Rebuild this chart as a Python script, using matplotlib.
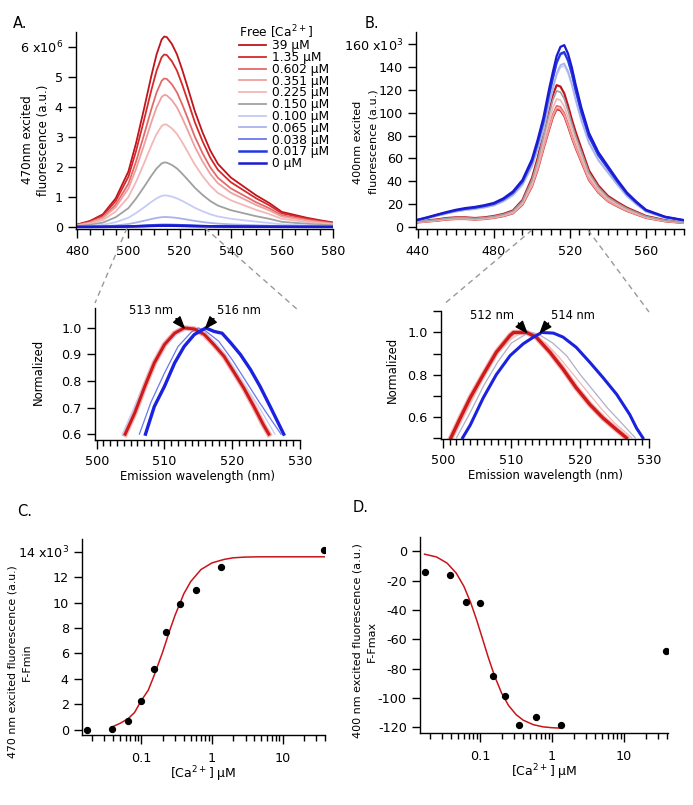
import numpy as np
import matplotlib
matplotlib.use("Agg")
import matplotlib.pyplot as plt
from matplotlib.lines import Line2D
from matplotlib.ticker import MultipleLocator, LogLocator, NullFormatter, FixedLocator

plt.rcParams['font.family'] = ['DejaVu Sans']
plt.rcParams['mathtext.default'] = 'regular'
plt.rcParams['axes.unicode_minus'] = False

# ---------------- data ----------------
conc_labels = ['39 µM', '1.35 µM', '0.602 µM', '0.351 µM', '0.225 µM', '0.150 µM',
               '0.100 µM', '0.065 µM', '0.038 µM', '0.017 µM', '0 µM']
conc_colors = ['#c0141c', '#d42a2a', '#e36a6a', '#eea0a0', '#f2b8b8', '#a0a0a0',
               '#c5ccf5', '#aab2ee', '#6a78ea', '#2438e0', '#1a1ad2']

# Panel A: emission shape of the 39 uM spectrum (x10^6) and peak heights of each spectrum
wl_A = [480, 485, 490, 495, 500, 503, 506, 509, 511, 513, 514, 515, 517, 519, 521, 523,
        526, 529, 532, 535, 540, 545, 550, 555, 560, 565, 570, 575, 580]
spec_A_top = [0.08, 0.2, 0.42, 0.95, 1.85, 2.8, 3.9, 5.05, 5.75, 6.25, 6.35, 6.33, 6.1, 5.75,
              5.25, 4.7, 3.85, 3.15, 2.55, 2.1, 1.65, 1.35, 1.05, 0.8, 0.5, 0.4, 0.3, 0.22, 0.15]
peaks_A = [6.35, 5.75, 4.95, 4.4, 3.42, 2.15, 1.05, 0.33, 0.08, 0.05, 0.04]

# Panel B: Ca-bound (red) and Ca-free (blue) spectral shapes (x10^3) and peak heights
wl_B = [440, 445, 450, 455, 460, 465, 470, 475, 480, 485, 490, 495, 500, 503, 506, 509, 511,
        513, 515, 517, 519, 521, 523, 526, 530, 535, 540, 545, 550, 555, 560, 570, 580]
spec_B_free = [6.4, 8.5, 10.8, 13, 15, 16.5, 17.5, 19, 21, 25, 31, 41, 59, 76, 95, 120, 135,
               149, 157, 158.5, 151, 139, 124, 104, 82, 65, 53, 41, 30, 22, 15, 9, 6]
spec_B_bound = [4, 4.8, 5.5, 6.5, 7, 7, 6.5, 7, 8, 9.5, 12, 19.5, 35.5, 50, 68, 85, 96,
                103, 102, 97, 88, 78, 69, 57, 41, 30, 22.5, 18, 14, 11, 8, 5, 3.5]
peaks_B = [124, 103, 106, 104, 112, 119, 141, 143, 152, 153, 159]
shape_B = ['bound'] * 6 + ['free'] * 5

# Insets: normalized spectra
inA_red_wl = [504.2, 505.6, 507.1, 508.5, 510, 511.5, 512.9, 514.4, 515.9, 517.3, 518.8,
              520.2, 521.7, 523.2, 524.6, 525.4]
inA_red = [0.6, 0.679, 0.78, 0.868, 0.937, 0.98, 1.0, 0.996, 0.975, 0.937, 0.893, 0.836,
           0.774, 0.704, 0.635, 0.6]
inA_blue_wl = [507.2, 508.5, 510, 511.5, 512.9, 514.4, 516.1, 517.3, 518.5, 519.8, 521.2,
               522.7, 524.1, 525.6, 527.6]
inA_blue = [0.6, 0.704, 0.78, 0.868, 0.93, 0.975, 1.0, 0.987, 0.98, 0.943, 0.9, 0.843, 0.78,
            0.704, 0.6]
inA_mid_wl = [506.3, 508, 510, 512, 514, 515, 516, 518, 520, 522, 524, 526, 527.2]
inA_mid = [0.6, 0.72, 0.83, 0.93, 0.985, 1.0, 0.99, 0.95, 0.88, 0.8, 0.72, 0.645, 0.6]
inA_light_wl = [503.8, 506, 508, 510, 512, 514, 516, 518, 520, 522, 524, 526.3]
inA_light = [0.6, 0.73, 0.84, 0.93, 0.98, 1.0, 0.98, 0.93, 0.86, 0.78, 0.7, 0.6]

inB_red_wl = [501.2, 502.5, 504, 505.9, 507.8, 509.8, 510.3, 512.2, 513.6, 515.6, 517.5,
              519.4, 521.4, 523.3, 525.3, 526.7]
inB_red = [0.5, 0.59, 0.69, 0.8, 0.906, 0.986, 1.0, 1.0, 0.978, 0.906, 0.826, 0.738, 0.658,
           0.594, 0.538, 0.5]
inB_blue_wl = [502.9, 504, 505.9, 507.8, 509.8, 511.7, 513.2, 514.4, 516.1, 517.5, 519.4,
               521.4, 523.3, 525.3, 527.2, 528.2, 529.1]
inB_blue = [0.5, 0.56, 0.69, 0.8, 0.89, 0.946, 0.978, 1.0, 0.997, 0.978, 0.93, 0.858, 0.786,
            0.706, 0.61, 0.545, 0.5]
inB_mid_wl = [502, 504, 506, 508, 510, 512, 513, 514, 516, 518, 520, 522, 524, 526, 528]
inB_mid = [0.5, 0.62, 0.75, 0.86, 0.95, 0.99, 1.0, 0.99, 0.95, 0.89, 0.8, 0.72, 0.64, 0.57, 0.5]
inB_pink_wl = [501.5, 504, 506, 508, 510, 511, 512, 513, 515, 517, 519, 521, 523, 525, 527.5]
inB_pink = [0.5, 0.66, 0.79, 0.9, 0.97, 0.99, 1.0, 0.99, 0.95, 0.88, 0.8, 0.72, 0.64, 0.57, 0.5]

# Panel C / D titration
ca_conc = [0.017, 0.038, 0.065, 0.100, 0.150, 0.225, 0.351, 0.602, 1.35, 39]
C_vals = [0.0, 0.05, 0.65, 2.25, 4.75, 7.65, 9.85, 11.0, 12.8, 14.15]
C_fit_x = [0.038, 0.05, 0.065, 0.08, 0.1, 0.125, 0.15, 0.2, 0.25, 0.3, 0.4, 0.5, 0.7, 1.0,
           1.5, 2.0, 3, 5, 10, 39]
C_fit_y = [0.2, 0.5, 0.87, 1.35, 2.3, 3.1, 4.2, 6.1, 7.75, 9.0, 10.7, 11.65, 12.6, 13.12,
           13.4, 13.52, 13.58, 13.6, 13.6, 13.6]
D_vals = [-14, -16.3, -34.4, -35.1, -84.9, -98.9, -118.2, -112.7, -118.2, -67.9]
D_fit_x = [0.017, 0.025, 0.035, 0.047, 0.06, 0.075, 0.09, 0.11, 0.13, 0.16, 0.2, 0.25, 0.32,
           0.4, 0.55, 0.75, 1.0, 1.35]
D_fit_y = [-2, -3.9, -8.1, -15.0, -24.0, -35.5, -46.8, -60.5, -72.0, -85.1, -96.6, -105.1,
           -111.4, -115.1, -118.1, -119.6, -120.2, -120.5]

# ---------------- figure ----------------
W, H = 693, 805
fig = plt.figure(figsize=(W / 100, H / 100), dpi=100)

def ax_px(l, t, r, b):
    return fig.add_axes([l / W, 1 - b / H, (r - l) / W, (b - t) / H])

TS = 9.2

def style(ax, xpad=5):
    for s in ('top', 'right'):
        ax.spines[s].set_visible(False)
    for s in ('left', 'bottom'):
        ax.spines[s].set_linewidth(1.0)
    ax.tick_params(which='major', direction='out', length=6, width=1.0, labelsize=TS)
    ax.tick_params(which='minor', direction='out', length=4, width=1.0)
    ax.tick_params(axis='x', which='major', length=6.5, pad=xpad)
    ax.tick_params(axis='y', which='major', pad=3.5)

def ylabel_px(ax, text, size, cx, cy, l, t, r, b, ls=1.2):
    # cx: right edge of the rotated label block, cy: its vertical centre (pixels)
    ax.set_ylabel(text, fontsize=size, linespacing=ls)
    ax.yaxis.set_label_coords((cx - l) / (r - l), 1 - (cy - t) / (b - t))

# Panel A
A_box = (76, 32, 333, 229)
axA = ax_px(*A_box)
top_arr = np.array(spec_A_top)
for pk, c, lab in zip(peaks_A, conc_colors, conc_labels):
    lw = 1.8 if lab in ('0.017 µM', '0 µM') else 1.3
    axA.plot(wl_A, top_arr * pk / max(spec_A_top), color=c, lw=lw, label=lab)
axA.set_xlim(479.5, 580)
axA.set_ylim(-0.07, 6.5)
style(axA)
axA.set_xticks([480, 500, 520, 540, 560, 580])
axA.xaxis.set_minor_locator(MultipleLocator(5))
axA.set_yticks(range(7))
axA.set_yticklabels(['0', '1', '2', '3', '4', '5', '6 x10$^{6}$'])
ylabel_px(axA, '470nm excited\nfluorescence (a.u.)', 8.6, 50, 140, *A_box, ls=1.3)
leg = axA.legend(loc='upper left', bbox_to_anchor=(239 / W, 1 - 23 / H),
                 bbox_transform=fig.transFigure, frameon=False, fontsize=8.8,
                 title='Free [Ca$^{2+}$]', title_fontsize=8.8, handlelength=2.2,
                 handletextpad=0.5, labelspacing=-0.1, borderpad=0, borderaxespad=0,
                 alignment='left')

# Panel B
B_box = (416, 32, 684, 229)
axB = ax_px(*B_box)
free_arr = np.array(spec_B_free)
bound_arr = np.array(spec_B_bound)
for pk, c, lab, sh in zip(peaks_B, conc_colors, conc_labels, shape_B):
    base = bound_arr if sh == 'bound' else free_arr
    lw = 1.6 if lab in ('39 µM', '1.35 µM', '0.017 µM', '0 µM') else 1.2
    axB.plot(wl_B, base * pk / base.max(), color=c, lw=lw)
axB.set_xlim(439, 580)
axB.set_ylim(-1.75, 170.5)
style(axB)
axB.set_xticks([440, 480, 520, 560])
axB.xaxis.set_minor_locator(MultipleLocator(5))
axB.set_yticks(range(0, 161, 20))
axB.set_yticklabels([str(v) for v in range(0, 141, 20)] + ['160 x10$^{3}$'])
ylabel_px(axB, '400nm excited\nfluorescence (a.u.)', 8.0, 378, 142, *B_box, ls=1.6)

# Inset A
IA_box = (95, 308, 300, 440)
axIA = ax_px(*IA_box)
axIA.plot(inA_red_wl, inA_red, color='#eea0a0', lw=4.0, alpha=0.8)
axIA.plot(inA_light_wl, inA_light, color='#c5ccf5', lw=0.9)
axIA.plot(inA_mid_wl, inA_mid, color='#6a78ea', lw=0.9)
axIA.plot(inA_red_wl, inA_red, color='#d01a1a', lw=2.2)
axIA.plot(inA_blue_wl, inA_blue, color='#1a22e0', lw=2.4)
axIA.set_xlim(499.75, 530)
axIA.set_ylim(0.578, 1.075)
style(axIA, xpad=4.5)
axIA.set_xticks([500, 510, 520, 530])
axIA.xaxis.set_minor_locator(MultipleLocator(1))
axIA.set_yticks([0.6, 0.7, 0.8, 0.9, 1.0])
axIA.set_yticklabels(['0.6', '0.7', '0.8', '0.9', '1.0'])
ylabel_px(axIA, 'Normalized', 8.4, 45, 372, *IA_box)
axIA.set_xlabel('Emission wavelength (nm)', fontsize=8.4, labelpad=1)
arrow = dict(facecolor='black', edgecolor='black', width=0.01, headwidth=6, headlength=8, shrink=0)
axIA.annotate('', xy=(512.9, 1.0), xytext=(511.7, 1.035), arrowprops=arrow)
axIA.annotate('', xy=(516.1, 1.0), xytext=(517.3, 1.035), arrowprops=arrow)
axIA.text(511.2, 1.04, '513 nm', fontsize=8.3, ha='right', va='bottom')
axIA.text(517.8, 1.04, '516 nm', fontsize=8.3, ha='left', va='bottom')

# Inset B
IB_box = (441, 311, 649, 439)
axIB = ax_px(*IB_box)
axIB.plot(inB_red_wl, inB_red, color='#eea0a0', lw=4.0, alpha=0.8)
axIB.plot(inB_pink_wl, inB_pink, color='#f2b8b8', lw=0.9)
axIB.plot(inB_mid_wl, inB_mid, color='#b0b0c8', lw=0.9)
axIB.plot(inB_red_wl, inB_red, color='#d01a1a', lw=2.4)
axIB.plot(inB_blue_wl, inB_blue, color='#1a22e0', lw=2.2)
axIB.set_xlim(499.75, 530)
axIB.set_ylim(0.494, 1.102)
style(axIB, xpad=4.5)
axIB.set_xticks([500, 510, 520, 530])
axIB.xaxis.set_minor_locator(MultipleLocator(1))
axIB.set_yticks([0.6, 0.8, 1.0])
axIB.set_yticklabels(['0.6', '0.8', '1.0'])
axIB.yaxis.set_minor_locator(FixedLocator([0.5, 0.7, 0.9, 1.1]))
axIB.tick_params(axis='y', which='minor', length=6)
ylabel_px(axIB, 'Normalized', 8.4, 399, 370, *IB_box)
axIB.set_xlabel('Emission wavelength (nm)', fontsize=8.4, labelpad=1)
axIB.annotate('', xy=(512.2, 1.0), xytext=(511.0, 1.045), arrowprops=arrow)
axIB.annotate('', xy=(514.2, 1.0), xytext=(515.4, 1.045), arrowprops=arrow)
axIB.text(510.4, 1.05, '512 nm', fontsize=8.3, ha='right', va='bottom')
axIB.text(515.8, 1.05, '514 nm', fontsize=8.3, ha='left', va='bottom')

# Dashed zoom connectors
for (x0, y0, x1, y1) in [(127, 228, 95, 303), (205, 228, 298, 310),
                         (532, 230, 443, 305), (588, 230, 649, 312)]:
    fig.add_artist(Line2D([x0 / W, x1 / W], [1 - y0 / H, 1 - y1 / H], transform=fig.transFigure,
                          color='#999999', lw=1.0, ls=(0, (4, 3))))

def log_axis(ax):
    ax.set_xscale('log')
    ax.xaxis.set_major_locator(FixedLocator([0.1, 1, 10]))
    ax.set_xticklabels(['0.1', '1', '10'])
    ax.xaxis.set_minor_locator(LogLocator(base=10, subs=np.arange(2, 10)))
    ax.xaxis.set_minor_formatter(NullFormatter())
    ax.set_xlabel('[Ca$^{2+}$] µM', fontsize=9.0, labelpad=0)

# Panel C
C_box = (82, 539, 325, 735)
axC = ax_px(*C_box)
axC.plot(C_fit_x, C_fit_y, color='#c8141c', lw=1.1)
axC.scatter(ca_conc, C_vals, s=18, color='black', zorder=3)
log_axis(axC)
axC.set_xlim(0.0144, 40)
axC.set_ylim(-0.42, 15.0)
style(axC, xpad=5.5)
axC.set_yticks(range(0, 15, 2))
axC.set_yticklabels([str(v) for v in range(0, 13, 2)] + ['14 x10$^{3}$'])
ylabel_px(axC, '470 nm excited fluorescence (a.u.)\nF-Fmin', 7.9, 32, 662, *C_box, ls=1.5)

# Panel D
D_box = (420, 537, 668, 733)
axD = ax_px(*D_box)
axD.plot(D_fit_x, D_fit_y, color='#c8141c', lw=1.1)
axD.scatter(ca_conc, D_vals, s=18, color='black', zorder=3)
log_axis(axD)
axD.set_xlim(0.0147, 41)
axD.set_ylim(-123.8, 9.7)
style(axD, xpad=5.5)
axD.set_yticks(range(-120, 1, 20))
ylabel_px(axD, '400 nm excited fluorescence (a.u.)\nF-Fmax', 8.0, 377, 641, *D_box, ls=1.5)

# Panel letters
for txt, x, y in [('A.', 13, 24), ('B.', 365, 24), ('C.', 17, 511), ('D.', 353, 507)]:
    fig.text(x / W, 1 - y / H, txt, fontsize=10.5, ha='left', va='center')

fig.savefig('out.png', dpi=100)
